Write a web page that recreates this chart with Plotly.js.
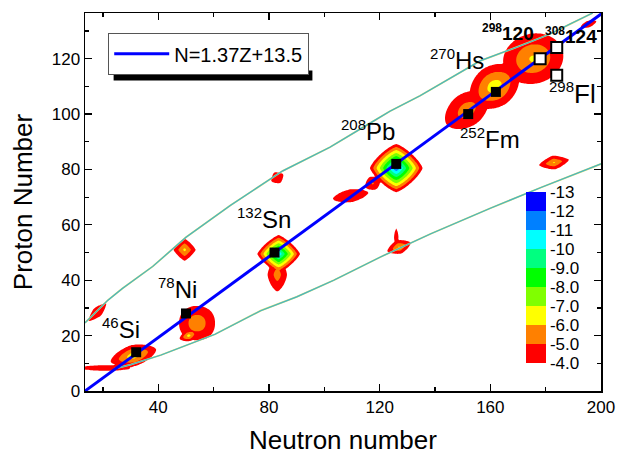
<!DOCTYPE html>
<html><head><meta charset="utf-8">
<script src="https://cdn.plot.ly/plotly-3.0.1.min.js"></script>
<style>html,body{margin:0;padding:0;background:#fff}#chart{width:617px;height:457px}</style>
</head><body><div id="chart"></div>
<script>
// ---- fit line N = 1.37 Z + 13.5 ----
const lineSlope = 1.37, lineOffset = 13.5;
const lineZ = [0, 136.5];

// ---- contour islands (centre N, centre Z, deepest level, half extent along N and Z, tilt in degrees, roundness) ----
const islandN     = [31,   21,   18,   54,   49.5, 83.5, 83,   83,   109.5, 126,  117.5, 127,  126,  151.5, 161.5, 175.5, 183,  195.5, 51];
const islandZ     = [12.8, 8.3,  28.5, 24.5, 51,   49.5, 42,   77,   70.5,  80.5, 75,    52,   55.5, 101.5, 110,   120,   82.5, 132.5, 20];
const islandLevel = [-6.8, -4.7, -4.8, -5.9, -6.3, -11,  -5.6, -5,   -4.9,  -12,  -5.2,  -6.2, -5,   -5.7,  -6.8,  -6.3,  -6.2, -4.7,  -6.6];
const islandHalfN = [8.5,  9,    4.5,  6.5,  4,    7.7,  3.5,  2.5,  6.5,   9.5,  3,     4.5,  0.8,  9,     10,    11,    5.5,  3,     3.5];
const islandHalfZ = [3.8,  1.0,  1.8,  6.2,  4,    6.8,  6,    2.2,  2.3,   8.7,  2.5,   2.5,  3.2,  6,     7.5,   9,     2.5,  1.2,   2];
const islandTilt  = [15,   0,    45,   0,    0,    0,    0,    30,   10,    0,    30,    20,   0,    36,    36,    15,    10,   20,    20];
const islandRound = [1.6,  2,    1.3,  2.2,  1.2,  1.25, 1.5,  1.3,  1.6,   1.3,  1.5,   1.4,  1.5,  1.8,   1.8,   2.0,   1.3,  1.5,   1.5];

// ---- drip lines ----
const upperN = [13.5, 21.8, 27, 38, 50, 66, 85, 102, 117, 123.7, 134.6, 156.3, 170.7, 181.6, 188.8, 193, 197];
const upperZ = [24.6, 32.8, 37, 45, 55.5, 67, 79.5, 88, 97, 101, 106.6, 119.2, 124.6, 128.9, 132.5, 134.5, 136.5];
const lowerN = [24, 30, 41, 50, 60.5, 77, 90, 103.4, 120.3, 138.5, 160, 178.3, 200];
const lowerZ = [8, 9.5, 13, 16.5, 20.5, 29, 34, 40, 48.4, 56.8, 66, 73.5, 82];

// ---- marked nuclei ----
const filledN = [32, 50, 82, 126, 152, 162];
const filledZ = [14, 28, 50, 82, 100, 108];
const openN = [178, 184, 184];
const openZ = [120, 124, 114];

// ---- labels ----
const labelMass = ['46', '78', '132', '208', '252', '270', '298'];
const labelSym  = ['Si', 'Ni', 'Sn', 'Pb', 'Fm', 'Hs', 'Fl'];
const labelN    = [26.5, 47.1, 78.2, 115.8, 159.9, 148.1, 189.6];
const labelZ    = [22.7, 37.1, 62.3, 94, 91.3, 119.8, 107.6];
const boldMass  = ['298', '308'];
const boldZnum  = ['120', '124'];
const boldN     = [166.4, 189.1];
const boldZ     = [129.4, 128.2];

// ---- colour levels ----
const levelTicks = [-4, -5, -6, -7, -8, -9, -10, -11, -12, -13];
const levelTickText = ['-4.0', '-5.0', '-6.0', '-7.0', '-8.0', '-9.0', '-10', '-11', '-12', '-13'];
const levelColors = ['#ff0000', '#ff8000', '#ffff00', '#80ff00', '#00ff00', '#00ff80', '#00ffff', '#0080ff', '#0000ff'];

// build contour grid
const gridN = [], gridZ = [];
for (let n = 13.5; n <= 200.001; n += 0.5) gridN.push(n);
for (let z = 0; z <= 136.501; z += 0.5) gridZ.push(z);
const zGrid = gridZ.map(zz => gridN.map(nn => {
  let best = 0;
  for (let i = 0; i < islandN.length; i++) {
    const q = islandRound[i];
    const t = islandTilt[i] * Math.PI / 180;
    const dx = nn - islandN[i], dz = zz - islandZ[i];
    const u = dx * Math.cos(t) + dz * Math.sin(t);
    const v = -dx * Math.sin(t) + dz * Math.cos(t);
    const d = Math.pow(Math.pow(Math.abs(u) / islandHalfN[i], q) + Math.pow(Math.abs(v) / islandHalfZ[i], q), 1 / q);
    const depth = -islandLevel[i];
    const s = 4 + (depth - 4) * (1 - d);
    if (s > best) best = s;
  }
  return best;
}));

const contourScale = [[0, 'rgba(255,255,255,0)']];
levelColors.forEach((c, k) => contourScale.push([(k + 1) / 10, c]));
contourScale.push([1, levelColors[levelColors.length - 1]]);

const barScale = [];
levelColors.forEach((c, k) => { barScale.push([k / 9, c]); barScale.push([(k + 1) / 9, c]); });

const FONT = 'Liberation Sans, Arial, sans-serif';

const traces = [
  {
    type: 'contour', x: gridN, y: gridZ, z: zGrid,
    autocontour: false,
    contours: {start: 4, end: 13, size: 1, coloring: 'fill', showlines: false},
    line: {width: 0}, colorscale: contourScale, showscale: false,
    hoverinfo: 'skip', showlegend: false
  },
  {type: 'scatter', mode: 'lines', x: upperN, y: upperZ, line: {color: '#d6dc6a', width: 1.8}, showlegend: false, hoverinfo: 'skip'},
  {type: 'scatter', mode: 'lines', x: upperN, y: upperZ, line: {color: '#45b4c6', width: 1.2}, showlegend: false, hoverinfo: 'skip'},
  {type: 'scatter', mode: 'lines', x: lowerN, y: lowerZ, line: {color: '#d6dc6a', width: 1.8}, showlegend: false, hoverinfo: 'skip'},
  {type: 'scatter', mode: 'lines', x: lowerN, y: lowerZ, line: {color: '#45b4c6', width: 1.2}, showlegend: false, hoverinfo: 'skip'},
  {
    type: 'scatter', mode: 'lines', name: 'N=1.37Z+13.5',
    x: lineZ.map(z => lineSlope * z + lineOffset), y: lineZ,
    line: {color: '#0000ff', width: 3}, showlegend: true
  },
  {type: 'scatter', mode: 'markers', x: filledN, y: filledZ, marker: {symbol: 'square', size: 10, color: '#000'}, showlegend: false},
  {type: 'scatter', mode: 'markers', x: openN, y: openZ, marker: {symbol: 'square', size: 11, color: '#fff', line: {color: '#000', width: 2}}, showlegend: false},
  {
    type: 'scatter', mode: 'markers', x: [-100], y: [-100], showlegend: false, hoverinfo: 'skip',
    marker: {
      color: [5], colorscale: barScale, cmin: 4, cmax: 13, showscale: true,
      colorbar: {
        x: 0.855, xanchor: 'left', y: 0.074, yanchor: 'bottom', len: 0.452, lenmode: 'fraction',
        thickness: 20, thicknessmode: 'pixels', xpad: 0, ypad: 0, outlinewidth: 0,
        tickmode: 'array', tickvals: levelTicks.map(v => -v), ticktext: levelTickText,
        ticks: '', ticklabelpad: 6,
        tickfont: {family: FONT, size: 17, color: '#000'}
      }
    }
  }
];

const annotations = [];
labelSym.forEach((s, i) => annotations.push({
  x: labelN[i], y: labelZ[i], xref: 'x', yref: 'y', showarrow: false,
  text: '<sup><span style="font-size:15px">' + labelMass[i] + '</span></sup>' + s,
  font: {family: FONT, size: s === 'Fl' ? 26 : 24, color: '#000'}, xanchor: 'center', yanchor: 'middle'
}));
boldZnum.forEach((s, i) => annotations.push({
  x: boldN[i], y: boldZ[i], xref: 'x', yref: 'y', showarrow: false,
  text: '<b><sup><span style="font-size:12px">' + boldMass[i] + '</span></sup>' + s + '</b>',
  font: {family: FONT, size: 19, color: '#000'}, xanchor: 'center', yanchor: 'middle'
}));

const axisCommon = {
  showline: true, linecolor: '#000', linewidth: 1.5, mirror: 'ticks',
  ticks: 'inside', ticklen: 7, tickwidth: 1.2, tickcolor: '#000',
  showgrid: false, zeroline: false,
  tickfont: {family: FONT, size: 17, color: '#000'}
};

const layout = {
  width: 617, height: 457,
  margin: {l: 85, r: 16, t: 13, b: 66},
  paper_bgcolor: '#fff', plot_bgcolor: '#fff',
  font: {family: FONT, color: '#000'},
  xaxis: Object.assign({}, axisCommon, {
    range: [13.5, 200], tick0: 0, dtick: 40,
    minor: {dtick: 20, ticks: 'inside', ticklen: 4, tickcolor: '#000', tickwidth: 1.2},
    title: {text: 'Neutron number', font: {family: FONT, size: 26, color: '#000'}, standoff: 15}
  }),
  yaxis: Object.assign({}, axisCommon, {
    range: [0, 136.5], tick0: 0, dtick: 20,
    minor: {dtick: 10, ticks: 'inside', ticklen: 4, tickcolor: '#000', tickwidth: 1.2},
    title: {text: 'Proton Number', font: {family: FONT, size: 26, color: '#000'}, standoff: 11}
  }),
  legend: {
    x: 0.0446, y: 0.947, xanchor: 'left', yanchor: 'top',
    bgcolor: '#fff', bordercolor: '#555', borderwidth: 1.2,
    font: {family: FONT, size: 20, color: '#000'}, itemwidth: 55
  },
  annotations: annotations,
  showlegend: true
};

Plotly.newPlot('chart', traces, layout, {displayModeBar: false, staticPlot: true}).then(gd => {
  // drop shadow behind the legend box, sized from the drawn legend
  const bg = gd.querySelector('.legend rect.bg');
  if (!bg) return;
  const r = bg.getBoundingClientRect();
  const c = gd.getBoundingClientRect();
  const fs = gd._fullLayout._size;
  const px2x = p => (p - c.left - fs.l) / fs.w;
  const px2y = p => 1 - (p - c.top - fs.t) / fs.h;
  return Plotly.relayout(gd, {shapes: [{
    type: 'rect', xref: 'paper', yref: 'paper',
    x0: px2x(r.left + 5), x1: px2x(r.right + 4), y0: px2y(r.bottom + 6), y1: px2y(r.bottom - 4),
    fillcolor: '#000', line: {width: 0}, layer: 'above'
  }]});
});
</script></body></html>
